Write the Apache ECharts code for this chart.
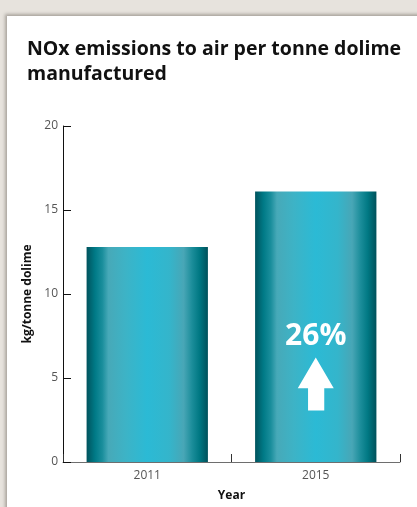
<!DOCTYPE html>
<html>
<head>
<meta charset="utf-8">
<script src="https://cdn.jsdelivr.net/npm/echarts@6/dist/echarts.min.js"></script>
<style>
  html, body { margin: 0; padding: 0; width: 417px; height: 507px; overflow: hidden; background: #e7e3dd; }
  #panel { position: absolute; left: 7px; top: 16px; width: 420px; height: 500px; background: #ffffff;
           box-shadow: -2px -2px 3px rgba(120,115,108,0.55); }
  #chart { position: absolute; left: 0; top: 0; width: 417px; height: 507px; }
</style>
</head>
<body>
<div id="panel"></div>
<div id="chart"></div>
<script>
const titleText = 'NOx emissions to air per tonne dolime\nmanufactured';
const categories = ['2011', '2015'];
const values = [12.8, 16.1];
const yTicks = { min: 0, max: 20, interval: 5 };
const yAxisName = 'kg/tonne dolime';
const xAxisName = 'Year';
const changeLabel = '26%';

const chart = echarts.init(document.getElementById('chart'), null, { renderer: 'canvas' });

const barGradient = new echarts.graphic.LinearGradient(0, 0, 1, 0, [
  { offset: 0.00, color: '#00535d' },
  { offset: 0.07, color: '#007a87' },
  { offset: 0.13, color: '#1a8e9c' },
  { offset: 0.18, color: '#47a9b8' },
  { offset: 0.32, color: '#3db3c6' },
  { offset: 0.50, color: '#2bbad5' },
  { offset: 0.68, color: '#34b5cb' },
  { offset: 0.80, color: '#48a6b6' },
  { offset: 0.87, color: '#1b8d9a' },
  { offset: 0.93, color: '#007883' },
  { offset: 1.00, color: '#00515b' }
]);

const arrowPath = 'path://M18,0 L36,31 L26.5,31 L26.5,53.4 L10.3,53.4 L10.3,31 L0,31 Z';

chart.setOption({
  backgroundColor: 'transparent',
  animation: false,
  textStyle: { fontFamily: 'Open Sans' },
  title: {
    text: titleText,
    left: 27,
    top: 37,
    padding: 0,
    textStyle: { fontFamily: 'Open Sans', fontSize: 19.5, fontWeight: 'bold', color: '#111111', lineHeight: 25 }
  },
  grid: { left: 63, right: 17, top: 126, bottom: 45, containLabel: false },
  xAxis: {
    type: 'category',
    data: categories,
    name: xAxisName,
    nameLocation: 'middle',
    nameGap: 28,
    nameTextStyle: { fontFamily: 'Open Sans', fontSize: 12, fontWeight: 'bold', color: '#111111' },
    axisLine: { lineStyle: { color: '#6e6e6e', width: 1 } },
    axisTick: { show: true, inside: true, length: 8, lineStyle: { color: '#333333' } },
    axisLabel: { fontFamily: 'Open Sans', fontSize: 12, color: '#555555', margin: 8 }
  },
  yAxis: {
    type: 'value',
    min: yTicks.min,
    max: yTicks.max,
    interval: yTicks.interval,
    name: yAxisName,
    nameLocation: 'middle',
    nameGap: 24,
    nameRotate: 90,
    nameTextStyle: { fontFamily: 'Open Sans', fontSize: 12, fontWeight: 'bold', color: '#111111' },
    axisLine: { show: true, lineStyle: { color: '#111111', width: 1 } },
    axisTick: { show: true, inside: true, length: 8, lineStyle: { color: '#111111' } },
    axisLabel: { fontFamily: 'Open Sans', fontSize: 12, color: '#555555', margin: 5 },
    splitLine: { show: false }
  },
  series: [{
    type: 'bar',
    data: values,
    barWidth: '72%',
    itemStyle: { color: barGradient },
    markPoint: {
      silent: true,
      data: [
        {
          coord: [categories[1], 4.64],
          symbol: arrowPath,
          symbolSize: [36, 53],
          symbolKeepAspect: false,
          itemStyle: { color: '#ffffff' },
          label: { show: false }
        },
        {
          coord: [categories[1], 7.45],
          symbol: 'circle',
          symbolSize: 0,
          label: {
            show: true,
            position: 'inside',
            formatter: changeLabel,
            fontFamily: 'Open Sans',
            fontSize: 30,
            fontWeight: 'bold',
            color: '#ffffff'
          }
        }
      ]
    }
  }]
});
</script>
</body>
</html>
